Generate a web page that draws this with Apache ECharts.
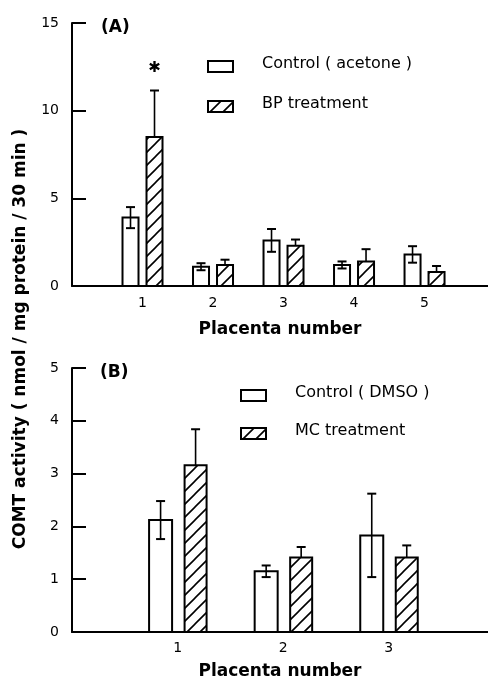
<!DOCTYPE html>
<html>
<head>
<meta charset="utf-8">
<script src="https://cdn.jsdelivr.net/npm/echarts@6/dist/echarts.min.js"></script>
<style>
  html, body { margin: 0; padding: 0; background: #fff; }
  #main { width: 488px; height: 686px; }
</style>
</head>
<body>
<div id="main"></div>
<script>
// panel A - BP
var placentaA = [1, 2, 3, 4, 5];
var controlA = [3.9, 1.1, 2.6, 1.2, 1.8];
var controlErrA = [0.6, 0.2, 0.65, 0.2, 0.47];
var bpA = [8.5, 1.2, 2.3, 1.4, 0.8];
var bpErrA = [2.65, 0.3, 0.35, 0.7, 0.34];
var starA = [true, false, false, false, false];

// panel B - MC
var placentaB = [1, 2, 3];
var controlB = [2.12, 1.15, 1.83];
var controlErrB = [0.36, 0.11, 0.79];
var mcB = [3.16, 1.41, 1.41];
var mcErrB = [0.68, 0.2, 0.23];

var font = 'DejaVu Sans';

// hatch pattern "/"
function makeHatch() {
  var s = 13;
  var c = document.createElement('canvas');
  c.width = s; c.height = s;
  var g = c.getContext('2d');
  g.fillStyle = '#fff';
  g.fillRect(0, 0, s, s);
  g.strokeStyle = '#000';
  g.lineWidth = 1.6;
  g.beginPath();
  g.moveTo(0, s); g.lineTo(s, 0);
  g.moveTo(-2, 2); g.lineTo(2, -2);
  g.moveTo(s - 2, s + 2); g.lineTo(s + 2, s - 2);
  g.stroke();
  return c;
}
var hatch = makeHatch();

function pack(xs, vals, errs) {
  return xs.map(function (x, i) { return [x, vals[i], errs[i]]; });
}

function barRenderer(offset, width, hatched, stars) {
  return function (params, api) {
    var x = api.value(0), v = api.value(1), e = api.value(2);
    var base = api.coord([x, 0]);
    var top = api.coord([x, v]);
    var cx = base[0] + offset;
    var cap = 4.5;
    var hi = api.coord([x, v + e])[1];
    var lo = hatched ? top[1] : api.coord([x, v - e])[1];
    var kids = [
      {
        type: 'rect',
        shape: { x: cx - width / 2, y: top[1], width: width, height: base[1] - top[1] },
        style: { fill: hatched ? { image: hatch, repeat: 'repeat' } : '#fff', stroke: '#000', lineWidth: 2 }
      },
      { type: 'line', shape: { x1: cx, y1: hi, x2: cx, y2: lo }, style: { stroke: '#000', lineWidth: 1.6 } },
      { type: 'line', shape: { x1: cx - cap, y1: hi, x2: cx + cap, y2: hi }, style: { stroke: '#000', lineWidth: 2 } }
    ];
    if (!hatched) {
      kids.push({ type: 'line', shape: { x1: cx - cap, y1: lo, x2: cx + cap, y2: lo }, style: { stroke: '#000', lineWidth: 2 } });
    }
    if (stars && stars[params.dataIndex]) {
      kids.push({
        type: 'text',
        style: { x: cx, y: hi - 22, text: '\u2731', fill: '#000', font: 'bold 15px ' + font, align: 'center', verticalAlign: 'middle' }
      });
    }
    return { type: 'group', children: kids };
  };
}

function xAxis(idx, max, labels, margin, gap) {
  return {
    gridIndex: idx, type: 'value', min: 0, max: max, interval: 1,
    axisLine: { lineStyle: { color: '#000', width: 2 } },
    axisTick: { show: false },
    splitLine: { show: false },
    axisLabel: {
      color: '#000', fontFamily: font, fontSize: 14, margin: margin,
      showMaxLabel: false,
      formatter: function (v) { return labels.indexOf(v) >= 0 ? String(v) : ''; }
    },
    name: 'Placenta number', nameLocation: 'middle', nameGap: gap,
    nameTextStyle: { color: '#000', fontFamily: font, fontSize: 17, fontWeight: 'bold' }
  };
}

function yAxis(idx, max, interval) {
  return {
    gridIndex: idx, type: 'value', min: 0, max: max, interval: interval,
    axisLine: { show: true, lineStyle: { color: '#000', width: 2 } },
    axisTick: { show: true, inside: true, length: 14, lineStyle: { color: '#000', width: 2 } },
    splitLine: { show: false },
    axisLabel: { color: '#000', fontFamily: font, fontSize: 14, margin: 13 }
  };
}

function legendItems(x, y1, y2, t1, t2) {
  return [
    { type: 'rect', left: x, top: y1, shape: { width: 25, height: 11 }, style: { fill: '#fff', stroke: '#000', lineWidth: 2 } },
    { type: 'rect', left: x, top: y2, shape: { width: 25, height: 11 }, style: { fill: { image: hatch, repeat: 'repeat' }, stroke: '#000', lineWidth: 2 } },
    { type: 'text', left: x + 55, top: y1 - 4, style: { text: t1, fill: '#000', font: '16px ' + font } },
    { type: 'text', left: x + 55, top: y2 - 4, style: { text: t2, fill: '#000', font: '16px ' + font } }
  ];
}

var chart = echarts.init(document.getElementById('main'));
chart.setOption({
  animation: false,
  backgroundColor: '#fff',
  grid: [
    { left: 72, right: 0, top: 23, bottom: 400 },
    { left: 72, right: 0, top: 368, bottom: 54 }
  ],
  xAxis: [
    xAxis(0, 5.9, placentaA, 10, 35),
    xAxis(1, 3.94, placentaB, 9, 31)
  ],
  yAxis: [yAxis(0, 15, 5), yAxis(1, 5, 1)],
  series: [
    { type: 'custom', xAxisIndex: 0, yAxisIndex: 0, renderItem: barRenderer(-12, 16, false), data: pack(placentaA, controlA, controlErrA) },
    { type: 'custom', xAxisIndex: 0, yAxisIndex: 0, renderItem: barRenderer(12, 16, true, starA), data: pack(placentaA, bpA, bpErrA) },
    { type: 'custom', xAxisIndex: 1, yAxisIndex: 1, renderItem: barRenderer(-17, 23, false), data: pack(placentaB, controlB, controlErrB) },
    { type: 'custom', xAxisIndex: 1, yAxisIndex: 1, renderItem: barRenderer(18, 22, true), data: pack(placentaB, mcB, mcErrB) }
  ],
  graphic: [
    { type: 'text', left: 101, top: 19, style: { text: '(A)', fill: '#000', font: 'bold 17px ' + font } },
    { type: 'text', left: 100, top: 364, style: { text: '(B)', fill: '#000', font: 'bold 17px ' + font } },
    {
      type: 'text', x: 21, y: 339, rotation: Math.PI / 2,
      style: { text: 'COMT activity ( nmol / mg protein / 30 min )', fill: '#000', font: 'bold 17px ' + font, align: 'center', verticalAlign: 'middle' }
    }
  ].concat(legendItems(207, 60, 100, 'Control ( acetone )', 'BP treatment'))
   .concat(legendItems(240, 389, 427, 'Control ( DMSO )', 'MC treatment'))
});
</script>
</body>
</html>
